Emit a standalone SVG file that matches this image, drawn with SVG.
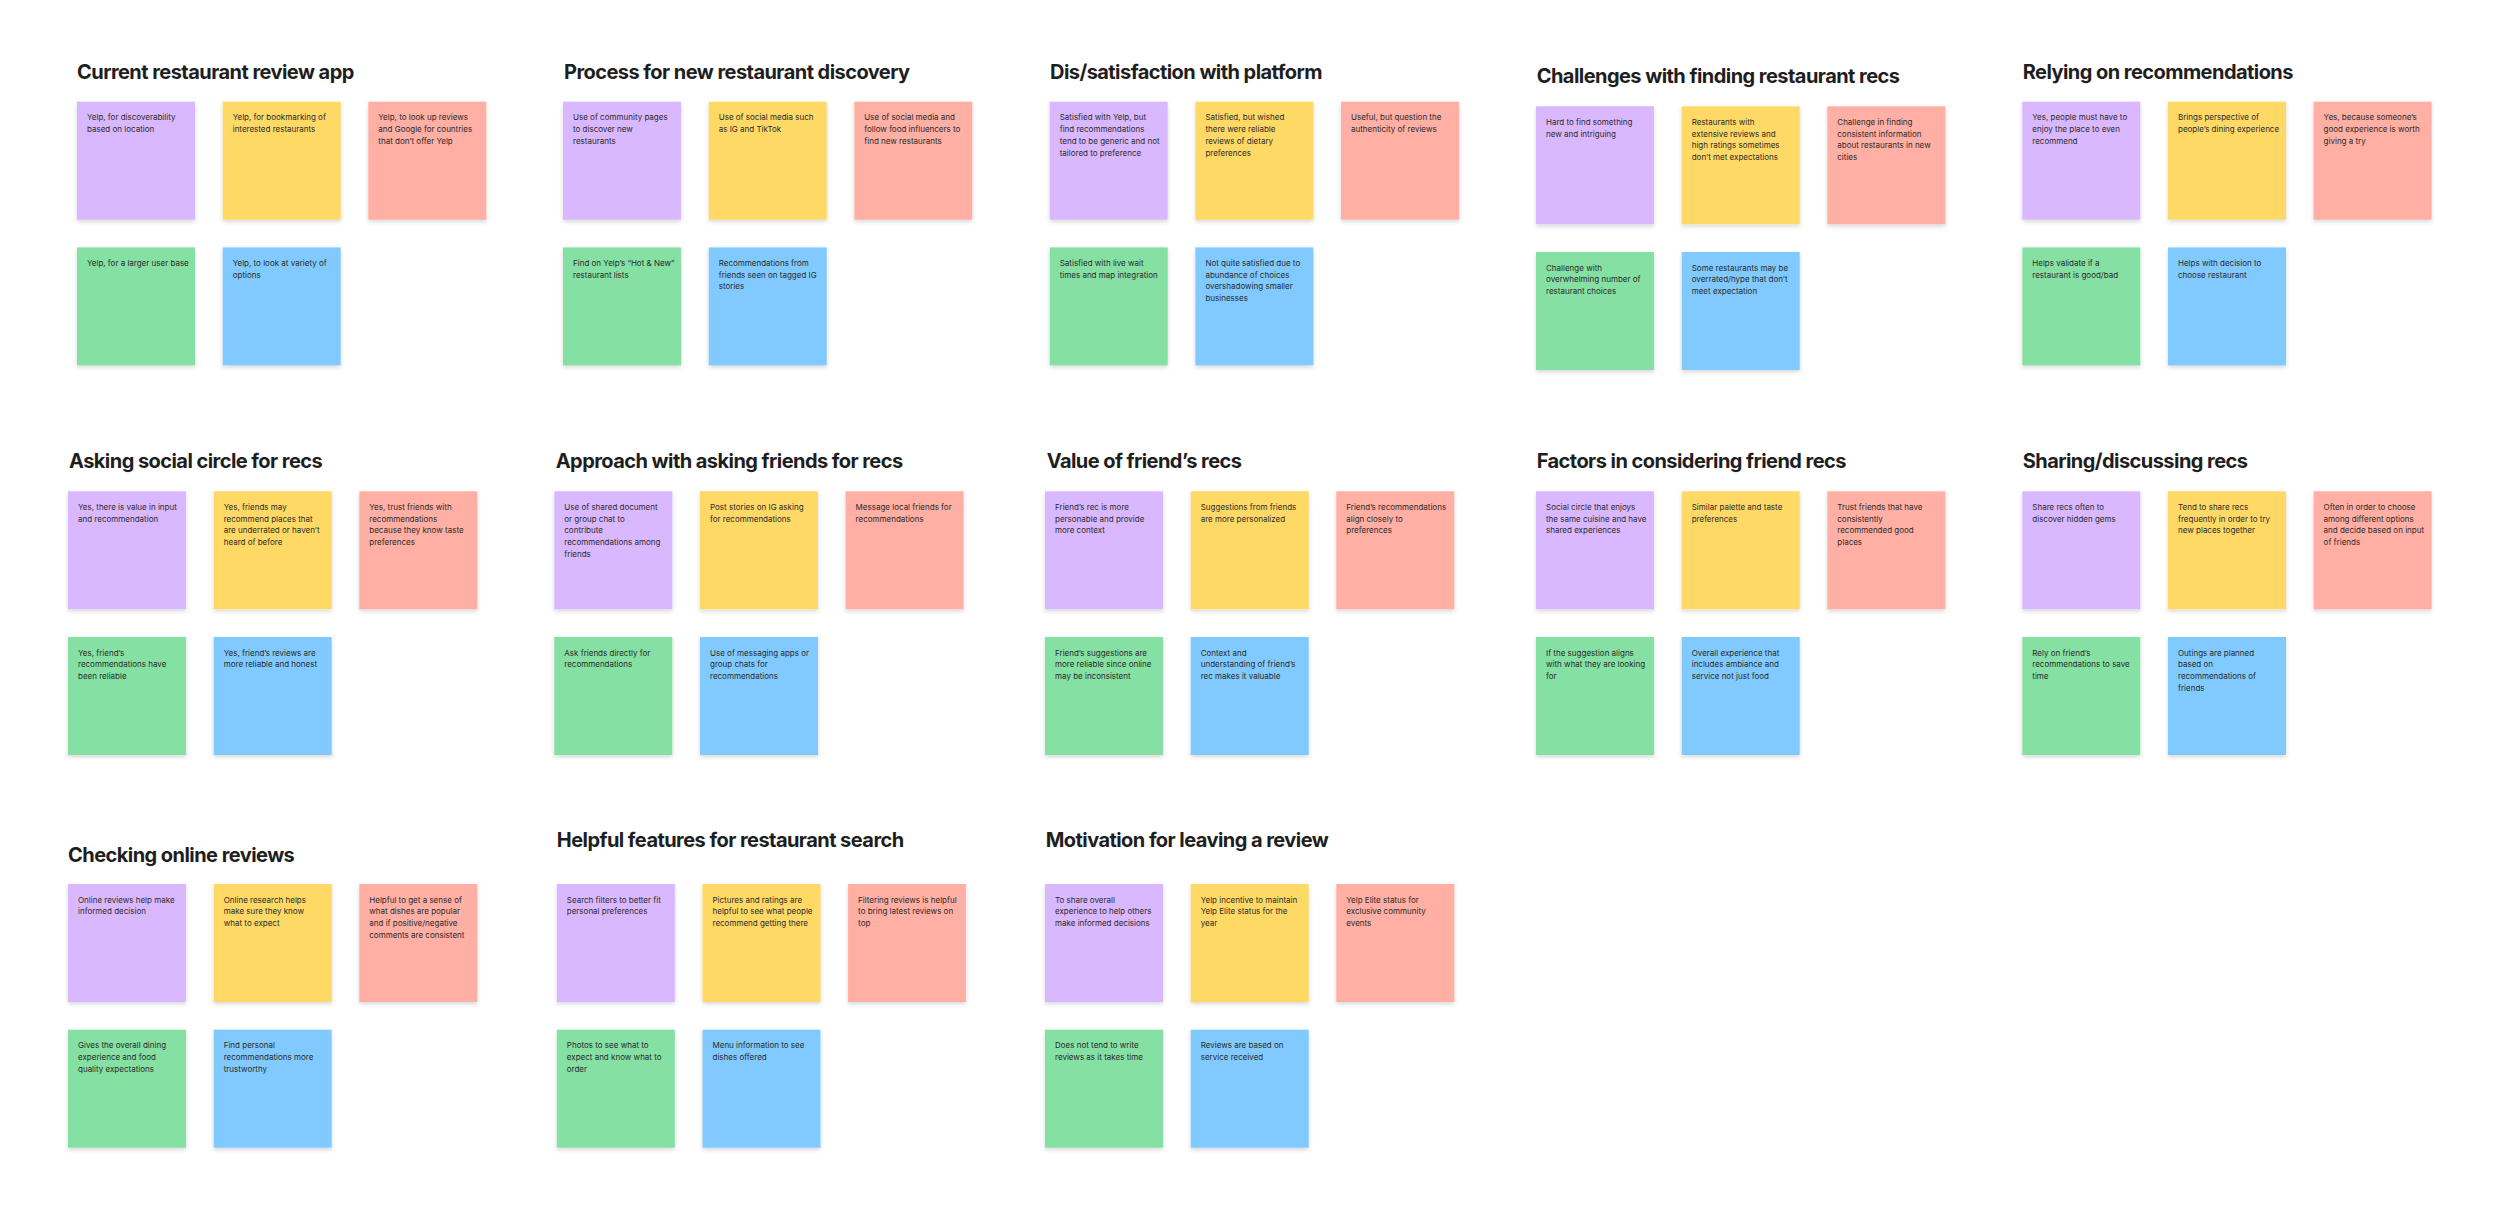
<svg xmlns="http://www.w3.org/2000/svg" width="2500" height="1220" viewBox="0 0 2500 1220">
<defs>
<filter id="sh" x="-10%" y="-10%" width="120%" height="130%">
<feDropShadow dx="0" dy="2" stdDeviation="2" flood-color="#000" flood-opacity="0.16"/>
</filter>
<style>
.title{font-family:Inter,"Liberation Sans",sans-serif;font-weight:700;font-size:20px;fill:#1e1e1e;letter-spacing:-0.55px}
.note{filter:url(#sh)}
.p{fill:#d9b8ff}.y{fill:#ffd966}.r{fill:#ffafa3}.g{fill:#85e0a3}.b{fill:#80caff}
.st{font-family:Inter,"Liberation Sans",sans-serif;font-size:8px;fill:#2b2b2b}
</style>
</defs>
<rect width="2500" height="1220" fill="#ffffff"/>
<g id="connectors"/>

<g id="sec1" transform="translate(77,101.7)">
<text class="title" x="0" y="-22.4">Current restaurant review app</text>
<g id="s1-n1"><rect class="note p" width="118" height="118"/><text class="st" y="18.5"><tspan x="10">Yelp, for discoverability</tspan><tspan x="10" dy="11.8">based on location</tspan></text></g>
<g id="s1-n2" transform="translate(145.7,0)"><rect class="note y" width="118" height="118"/><text class="st" y="18.5"><tspan x="10">Yelp, for bookmarking of</tspan><tspan x="10" dy="11.8">interested restaurants</tspan></text></g>
<g id="s1-n3" transform="translate(291.3,0)"><rect class="note r" width="118" height="118"/><text class="st" y="18.5"><tspan x="10">Yelp, to look up reviews</tspan><tspan x="10" dy="11.8">and Google for countries</tspan><tspan x="10" dy="11.8">that don’t offer Yelp</tspan></text></g>
<g id="s1-n4" transform="translate(0,145.7)"><rect class="note g" width="118" height="118"/><text class="st" y="18.5"><tspan x="10">Yelp, for a larger user base</tspan></text></g>
<g id="s1-n5" transform="translate(145.7,145.7)"><rect class="note b" width="118" height="118"/><text class="st" y="18.5"><tspan x="10">Yelp, to look at variety of</tspan><tspan x="10" dy="11.8">options</tspan></text></g>
</g>

<g id="sec2" transform="translate(563,101.7)">
<text class="title" x="1" y="-22.4">Process for new restaurant discovery</text>
<g id="s2-n1"><rect class="note p" width="118" height="118"/><text class="st" y="18.5"><tspan x="10">Use of community pages</tspan><tspan x="10" dy="11.8">to discover new</tspan><tspan x="10" dy="11.8">restaurants</tspan></text></g>
<g id="s2-n2" transform="translate(145.7,0)"><rect class="note y" width="118" height="118"/><text class="st" y="18.5"><tspan x="10">Use of social media such</tspan><tspan x="10" dy="11.8">as IG and TikTok</tspan></text></g>
<g id="s2-n3" transform="translate(291.3,0)"><rect class="note r" width="118" height="118"/><text class="st" y="18.5"><tspan x="10">Use of social media and</tspan><tspan x="10" dy="11.8">follow food influencers to</tspan><tspan x="10" dy="11.8">find new restaurants</tspan></text></g>
<g id="s2-n4" transform="translate(0,145.7)"><rect class="note g" width="118" height="118"/><text class="st" y="18.5"><tspan x="10">Find on Yelp’s “Hot &amp; New”</tspan><tspan x="10" dy="11.8">restaurant lists</tspan></text></g>
<g id="s2-n5" transform="translate(145.7,145.7)"><rect class="note b" width="118" height="118"/><text class="st" y="18.5"><tspan x="10">Recommendations from</tspan><tspan x="10" dy="11.8">friends seen on tagged IG</tspan><tspan x="10" dy="11.8">stories</tspan></text></g>
</g>

<g id="sec3" transform="translate(1049.7,101.7)">
<text class="title" x="0.3" y="-22.4">Dis/satisfaction with platform</text>
<g id="s3-n1"><rect class="note p" width="118" height="118"/><text class="st" y="18.5"><tspan x="10">Satisfied with Yelp, but</tspan><tspan x="10" dy="11.8">find recommendations</tspan><tspan x="10" dy="11.8">tend to be generic and not</tspan><tspan x="10" dy="11.8">tailored to preference</tspan></text></g>
<g id="s3-n2" transform="translate(145.7,0)"><rect class="note y" width="118" height="118"/><text class="st" y="18.5"><tspan x="10">Satisfied, but wished</tspan><tspan x="10" dy="11.8">there were reliable</tspan><tspan x="10" dy="11.8">reviews of dietary</tspan><tspan x="10" dy="11.8">preferences</tspan></text></g>
<g id="s3-n3" transform="translate(291.3,0)"><rect class="note r" width="118" height="118"/><text class="st" y="18.5"><tspan x="10">Useful, but question the</tspan><tspan x="10" dy="11.8">authenticity of reviews</tspan></text></g>
<g id="s3-n4" transform="translate(0,145.7)"><rect class="note g" width="118" height="118"/><text class="st" y="18.5"><tspan x="10">Satisfied with live wait</tspan><tspan x="10" dy="11.8">times and map integration</tspan></text></g>
<g id="s3-n5" transform="translate(145.7,145.7)"><rect class="note b" width="118" height="118"/><text class="st" y="18.5"><tspan x="10">Not quite satisfied due to</tspan><tspan x="10" dy="11.8">abundance of choices</tspan><tspan x="10" dy="11.8">overshadowing smaller</tspan><tspan x="10" dy="11.8">businesses</tspan></text></g>
</g>

<g id="sec4" transform="translate(1536,106.3)">
<text class="title" x="0.7" y="-23">Challenges with finding restaurant recs</text>
<g id="s4-n1"><rect class="note p" width="118" height="118"/><text class="st" y="18.5"><tspan x="10">Hard to find something</tspan><tspan x="10" dy="11.8">new and intriguing</tspan></text></g>
<g id="s4-n2" transform="translate(145.7,0)"><rect class="note y" width="118" height="118"/><text class="st" y="18.5"><tspan x="10">Restaurants with</tspan><tspan x="10" dy="11.8">extensive reviews and</tspan><tspan x="10" dy="11.8">high ratings sometimes</tspan><tspan x="10" dy="11.8">don’t met expectations</tspan></text></g>
<g id="s4-n3" transform="translate(291.3,0)"><rect class="note r" width="118" height="118"/><text class="st" y="18.5"><tspan x="10">Challenge in finding</tspan><tspan x="10" dy="11.8">consistent information</tspan><tspan x="10" dy="11.8">about restaurants in new</tspan><tspan x="10" dy="11.8">cities</tspan></text></g>
<g id="s4-n4" transform="translate(0,145.7)"><rect class="note g" width="118" height="118"/><text class="st" y="18.5"><tspan x="10">Challenge with</tspan><tspan x="10" dy="11.8">overwhelming number of</tspan><tspan x="10" dy="11.8">restaurant choices</tspan></text></g>
<g id="s4-n5" transform="translate(145.7,145.7)"><rect class="note b" width="118" height="118"/><text class="st" y="18.5"><tspan x="10">Some restaurants may be</tspan><tspan x="10" dy="11.8">overrated/hype that don’t</tspan><tspan x="10" dy="11.8">meet expectation</tspan></text></g>
</g>

<g id="sec5" transform="translate(2022.3,101.7)">
<text class="title" x="0.4" y="-22.4">Relying on recommendations</text>
<g id="s5-n1"><rect class="note p" width="118" height="118"/><text class="st" y="18.5"><tspan x="10">Yes, people must have to</tspan><tspan x="10" dy="11.8">enjoy the place to even</tspan><tspan x="10" dy="11.8">recommend</tspan></text></g>
<g id="s5-n2" transform="translate(145.7,0)"><rect class="note y" width="118" height="118"/><text class="st" y="18.5"><tspan x="10">Brings perspective of</tspan><tspan x="10" dy="11.8">people’s dining experience</tspan></text></g>
<g id="s5-n3" transform="translate(291.3,0)"><rect class="note r" width="118" height="118"/><text class="st" y="18.5"><tspan x="10">Yes, because someone’s</tspan><tspan x="10" dy="11.8">good experience is worth</tspan><tspan x="10" dy="11.8">giving a try</tspan></text></g>
<g id="s5-n4" transform="translate(0,145.7)"><rect class="note g" width="118" height="118"/><text class="st" y="18.5"><tspan x="10">Helps validate if a</tspan><tspan x="10" dy="11.8">restaurant is good/bad</tspan></text></g>
<g id="s5-n5" transform="translate(145.7,145.7)"><rect class="note b" width="118" height="118"/><text class="st" y="18.5"><tspan x="10">Helps with decision to</tspan><tspan x="10" dy="11.8">choose restaurant</tspan></text></g>
</g>

<g id="sec6" transform="translate(68,491.3)">
<text class="title" x="1" y="-23">Asking social circle for recs</text>
<g id="s6-n1"><rect class="note p" width="118" height="118"/><text class="st" y="18.5"><tspan x="10">Yes, there is value in input</tspan><tspan x="10" dy="11.8">and recommendation</tspan></text></g>
<g id="s6-n2" transform="translate(145.7,0)"><rect class="note y" width="118" height="118"/><text class="st" y="18.5"><tspan x="10">Yes, friends may</tspan><tspan x="10" dy="11.8">recommend places that</tspan><tspan x="10" dy="11.8">are underrated or haven’t</tspan><tspan x="10" dy="11.8">heard of before</tspan></text></g>
<g id="s6-n3" transform="translate(291.3,0)"><rect class="note r" width="118" height="118"/><text class="st" y="18.5"><tspan x="10">Yes, trust friends with</tspan><tspan x="10" dy="11.8">recommendations</tspan><tspan x="10" dy="11.8">because they know taste</tspan><tspan x="10" dy="11.8">preferences</tspan></text></g>
<g id="s6-n4" transform="translate(0,145.7)"><rect class="note g" width="118" height="118"/><text class="st" y="18.5"><tspan x="10">Yes, friend’s</tspan><tspan x="10" dy="11.8">recommendations have</tspan><tspan x="10" dy="11.8">been reliable</tspan></text></g>
<g id="s6-n5" transform="translate(145.7,145.7)"><rect class="note b" width="118" height="118"/><text class="st" y="18.5"><tspan x="10">Yes, friend’s reviews are</tspan><tspan x="10" dy="11.8">more reliable and honest</tspan></text></g>
</g>

<g id="sec7" transform="translate(554.3,491.3)">
<text class="title" x="1.4" y="-23">Approach with asking friends for recs</text>
<g id="s7-n1"><rect class="note p" width="118" height="118"/><text class="st" y="18.5"><tspan x="10">Use of shared document</tspan><tspan x="10" dy="11.8">or group chat to</tspan><tspan x="10" dy="11.8">contribute</tspan><tspan x="10" dy="11.8">recommendations among</tspan><tspan x="10" dy="11.8">friends</tspan></text></g>
<g id="s7-n2" transform="translate(145.7,0)"><rect class="note y" width="118" height="118"/><text class="st" y="18.5"><tspan x="10">Post stories on IG asking</tspan><tspan x="10" dy="11.8">for recommendations</tspan></text></g>
<g id="s7-n3" transform="translate(291.3,0)"><rect class="note r" width="118" height="118"/><text class="st" y="18.5"><tspan x="10">Message local friends for</tspan><tspan x="10" dy="11.8">recommendations</tspan></text></g>
<g id="s7-n4" transform="translate(0,145.7)"><rect class="note g" width="118" height="118"/><text class="st" y="18.5"><tspan x="10">Ask friends directly for</tspan><tspan x="10" dy="11.8">recommendations</tspan></text></g>
<g id="s7-n5" transform="translate(145.7,145.7)"><rect class="note b" width="118" height="118"/><text class="st" y="18.5"><tspan x="10">Use of messaging apps or</tspan><tspan x="10" dy="11.8">group chats for</tspan><tspan x="10" dy="11.8">recommendations</tspan></text></g>
</g>

<g id="sec8" transform="translate(1045,491.3)">
<text class="title" x="1.7" y="-23">Value of friend’s recs</text>
<g id="s8-n1"><rect class="note p" width="118" height="118"/><text class="st" y="18.5"><tspan x="10">Friend’s rec is more</tspan><tspan x="10" dy="11.8">personable and provide</tspan><tspan x="10" dy="11.8">more context</tspan></text></g>
<g id="s8-n2" transform="translate(145.7,0)"><rect class="note y" width="118" height="118"/><text class="st" y="18.5"><tspan x="10">Suggestions from friends</tspan><tspan x="10" dy="11.8">are more personalized</tspan></text></g>
<g id="s8-n3" transform="translate(291.3,0)"><rect class="note r" width="118" height="118"/><text class="st" y="18.5"><tspan x="10">Friend’s recommendations</tspan><tspan x="10" dy="11.8">align closely to</tspan><tspan x="10" dy="11.8">preferences</tspan></text></g>
<g id="s8-n4" transform="translate(0,145.7)"><rect class="note g" width="118" height="118"/><text class="st" y="18.5"><tspan x="10">Friend’s suggestions are</tspan><tspan x="10" dy="11.8">more reliable since online</tspan><tspan x="10" dy="11.8">may be inconsistent</tspan></text></g>
<g id="s8-n5" transform="translate(145.7,145.7)"><rect class="note b" width="118" height="118"/><text class="st" y="18.5"><tspan x="10">Context and</tspan><tspan x="10" dy="11.8">understanding of friend’s</tspan><tspan x="10" dy="11.8">rec makes it valuable</tspan></text></g>
</g>

<g id="sec9" transform="translate(1536,491.3)">
<text class="title" x="0.7" y="-23">Factors in considering friend recs</text>
<g id="s9-n1"><rect class="note p" width="118" height="118"/><text class="st" y="18.5"><tspan x="10">Social circle that enjoys</tspan><tspan x="10" dy="11.8">the same cuisine and have</tspan><tspan x="10" dy="11.8">shared experiences</tspan></text></g>
<g id="s9-n2" transform="translate(145.7,0)"><rect class="note y" width="118" height="118"/><text class="st" y="18.5"><tspan x="10">Similar palette and taste</tspan><tspan x="10" dy="11.8">preferences</tspan></text></g>
<g id="s9-n3" transform="translate(291.3,0)"><rect class="note r" width="118" height="118"/><text class="st" y="18.5"><tspan x="10">Trust friends that have</tspan><tspan x="10" dy="11.8">consistently</tspan><tspan x="10" dy="11.8">recommended good</tspan><tspan x="10" dy="11.8">places</tspan></text></g>
<g id="s9-n4" transform="translate(0,145.7)"><rect class="note g" width="118" height="118"/><text class="st" y="18.5"><tspan x="10">If the suggestion aligns</tspan><tspan x="10" dy="11.8">with what they are looking</tspan><tspan x="10" dy="11.8">for</tspan></text></g>
<g id="s9-n5" transform="translate(145.7,145.7)"><rect class="note b" width="118" height="118"/><text class="st" y="18.5"><tspan x="10">Overall experience that</tspan><tspan x="10" dy="11.8">includes ambiance and</tspan><tspan x="10" dy="11.8">service not just food</tspan></text></g>
</g>

<g id="sec10" transform="translate(2022.3,491.3)">
<text class="title" x="0.4" y="-23">Sharing/discussing recs</text>
<g id="s10-n1"><rect class="note p" width="118" height="118"/><text class="st" y="18.5"><tspan x="10">Share recs often to</tspan><tspan x="10" dy="11.8">discover hidden gems</tspan></text></g>
<g id="s10-n2" transform="translate(145.7,0)"><rect class="note y" width="118" height="118"/><text class="st" y="18.5"><tspan x="10">Tend to share recs</tspan><tspan x="10" dy="11.8">frequently in order to try</tspan><tspan x="10" dy="11.8">new places together</tspan></text></g>
<g id="s10-n3" transform="translate(291.3,0)"><rect class="note r" width="118" height="118"/><text class="st" y="18.5"><tspan x="10">Often in order to choose</tspan><tspan x="10" dy="11.8">among different options</tspan><tspan x="10" dy="11.8">and decide based on input</tspan><tspan x="10" dy="11.8">of friends</tspan></text></g>
<g id="s10-n4" transform="translate(0,145.7)"><rect class="note g" width="118" height="118"/><text class="st" y="18.5"><tspan x="10">Rely on friend’s</tspan><tspan x="10" dy="11.8">recommendations to save</tspan><tspan x="10" dy="11.8">time</tspan></text></g>
<g id="s10-n5" transform="translate(145.7,145.7)"><rect class="note b" width="118" height="118"/><text class="st" y="18.5"><tspan x="10">Outings are planned</tspan><tspan x="10" dy="11.8">based on</tspan><tspan x="10" dy="11.8">recommendations of</tspan><tspan x="10" dy="11.8">friends</tspan></text></g>
</g>

<g id="sec11" transform="translate(68,884)">
<text class="title" x="0" y="-22.3">Checking online reviews</text>
<g id="s11-n1"><rect class="note p" width="118" height="118"/><text class="st" y="18.5"><tspan x="10">Online reviews help make</tspan><tspan x="10" dy="11.8">informed decision</tspan></text></g>
<g id="s11-n2" transform="translate(145.7,0)"><rect class="note y" width="118" height="118"/><text class="st" y="18.5"><tspan x="10">Online research helps</tspan><tspan x="10" dy="11.8">make sure they know</tspan><tspan x="10" dy="11.8">what to expect</tspan></text></g>
<g id="s11-n3" transform="translate(291.3,0)"><rect class="note r" width="118" height="118"/><text class="st" y="18.5"><tspan x="10">Helpful to get a sense of</tspan><tspan x="10" dy="11.8">what dishes are popular</tspan><tspan x="10" dy="11.8">and if positive/negative</tspan><tspan x="10" dy="11.8">comments are consistent</tspan></text></g>
<g id="s11-n4" transform="translate(0,145.7)"><rect class="note g" width="118" height="118"/><text class="st" y="18.5"><tspan x="10">Gives the overall dining</tspan><tspan x="10" dy="11.8">experience and food</tspan><tspan x="10" dy="11.8">quality expectations</tspan></text></g>
<g id="s11-n5" transform="translate(145.7,145.7)"><rect class="note b" width="118" height="118"/><text class="st" y="18.5"><tspan x="10">Find personal</tspan><tspan x="10" dy="11.8">recommendations more</tspan><tspan x="10" dy="11.8">trustworthy</tspan></text></g>
</g>

<g id="sec12" transform="translate(556.8,884)">
<text class="title" x="0" y="-37.3">Helpful features for restaurant search</text>
<g id="s12-n1"><rect class="note p" width="118" height="118"/><text class="st" y="18.5"><tspan x="10">Search filters to better fit</tspan><tspan x="10" dy="11.8">personal preferences</tspan></text></g>
<g id="s12-n2" transform="translate(145.7,0)"><rect class="note y" width="118" height="118"/><text class="st" y="18.5"><tspan x="10">Pictures and ratings are</tspan><tspan x="10" dy="11.8">helpful to see what people</tspan><tspan x="10" dy="11.8">recommend getting there</tspan></text></g>
<g id="s12-n3" transform="translate(291.3,0)"><rect class="note r" width="118" height="118"/><text class="st" y="18.5"><tspan x="10">Filtering reviews is helpful</tspan><tspan x="10" dy="11.8">to bring latest reviews on</tspan><tspan x="10" dy="11.8">top</tspan></text></g>
<g id="s12-n4" transform="translate(0,145.7)"><rect class="note g" width="118" height="118"/><text class="st" y="18.5"><tspan x="10">Photos to see what to</tspan><tspan x="10" dy="11.8">expect and know what to</tspan><tspan x="10" dy="11.8">order</tspan></text></g>
<g id="s12-n5" transform="translate(145.7,145.7)"><rect class="note b" width="118" height="118"/><text class="st" y="18.5"><tspan x="10">Menu information to see</tspan><tspan x="10" dy="11.8">dishes offered</tspan></text></g>
</g>

<g id="sec13" transform="translate(1045,884)">
<text class="title" x="0.7" y="-37.3">Motivation for leaving a review</text>
<g id="s13-n1"><rect class="note p" width="118" height="118"/><text class="st" y="18.5"><tspan x="10">To share overall</tspan><tspan x="10" dy="11.8">experience to help others</tspan><tspan x="10" dy="11.8">make informed decisions</tspan></text></g>
<g id="s13-n2" transform="translate(145.7,0)"><rect class="note y" width="118" height="118"/><text class="st" y="18.5"><tspan x="10">Yelp incentive to maintain</tspan><tspan x="10" dy="11.8">Yelp Elite status for the</tspan><tspan x="10" dy="11.8">year</tspan></text></g>
<g id="s13-n3" transform="translate(291.3,0)"><rect class="note r" width="118" height="118"/><text class="st" y="18.5"><tspan x="10">Yelp Elite status for</tspan><tspan x="10" dy="11.8">exclusive community</tspan><tspan x="10" dy="11.8">events</tspan></text></g>
<g id="s13-n4" transform="translate(0,145.7)"><rect class="note g" width="118" height="118"/><text class="st" y="18.5"><tspan x="10">Does not tend to write</tspan><tspan x="10" dy="11.8">reviews as it takes time</tspan></text></g>
<g id="s13-n5" transform="translate(145.7,145.7)"><rect class="note b" width="118" height="118"/><text class="st" y="18.5"><tspan x="10">Reviews are based on</tspan><tspan x="10" dy="11.8">service received</tspan></text></g>
</g>
</svg>
